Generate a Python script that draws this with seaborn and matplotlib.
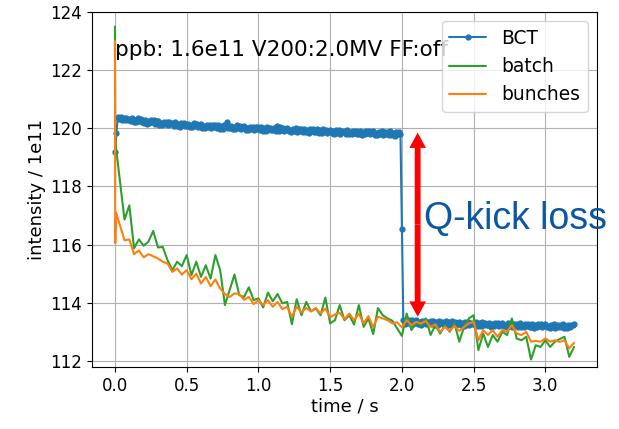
import numpy as np
import pandas as pd
import matplotlib
matplotlib.use("Agg")
import matplotlib.pyplot as plt
import seaborn as sns

# ---------------- data ----------------
t_bct = np.round(np.arange(321) * 0.01, 2)
bct = [
    119.20, 119.85, 120.38, 120.32, 120.40, 120.29, 120.37, 120.27, 120.36, 120.30,
    120.33, 120.24, 120.35, 120.22, 120.30, 120.21, 120.34, 120.26, 120.32, 120.23,
    120.19, 120.28, 120.15, 120.25, 120.17, 120.29, 120.21, 120.27, 120.16, 120.24,
    120.24, 120.12, 120.18, 120.10, 120.22, 120.14, 120.23, 120.11, 120.20, 120.15,
    120.18, 120.09, 120.20, 120.07, 120.15, 120.06, 120.19, 120.11, 120.17, 120.08,
    120.07, 120.16, 120.03, 120.13, 120.05, 120.17, 120.09, 120.15, 120.04, 120.12,
    120.14, 120.02, 120.08, 120.00, 120.12, 120.04, 120.13, 120.01, 120.10, 120.05,
    120.10, 120.01, 120.12, 119.99, 120.07, 119.98, 120.11, 120.03, 120.20, 120.00,
    120.00, 120.09, 119.96, 120.06, 119.98, 120.10, 120.02, 120.08, 119.97, 120.05,
    120.07, 119.95, 120.01, 119.93, 120.05, 119.97, 120.06, 119.94, 120.03, 119.98,
    120.03, 119.94, 120.05, 119.92, 120.00, 119.91, 120.04, 119.96, 120.02, 119.93,
    119.93, 120.02, 119.89, 120.08, 119.91, 120.03, 119.95, 120.01, 119.90, 119.98,
    120.01, 119.89, 119.95, 119.87, 119.99, 119.91, 120.00, 119.88, 119.97, 119.92,
    119.97, 119.88, 119.99, 119.86, 119.94, 119.85, 119.98, 119.90, 119.96, 119.87,
    119.87, 119.96, 119.83, 119.93, 119.85, 119.97, 119.89, 119.95, 119.84, 119.92,
    119.95, 119.83, 119.89, 119.81, 119.93, 119.85, 119.94, 119.82, 119.91, 119.86,
    119.91, 119.82, 119.93, 119.80, 119.88, 119.79, 119.92, 119.84, 119.90, 119.81,
    119.82, 119.91, 119.78, 119.88, 119.80, 119.92, 119.84, 119.90, 119.79, 119.87,
    119.90, 119.78, 119.84, 119.76, 119.88, 119.80, 119.89, 119.77, 119.86, 119.81,
    119.87, 119.78, 119.89, 119.76, 119.84, 119.75, 119.88, 119.80, 119.86, 119.82,
    116.55, 113.40, 113.27, 113.37, 113.29, 113.41, 113.33, 113.39, 113.28, 113.36,
    113.39, 113.27, 113.33, 113.25, 113.37, 113.29, 113.38, 113.26, 113.35, 113.30,
    113.36, 113.27, 113.38, 113.25, 113.33, 113.24, 113.37, 113.29, 113.35, 113.26,
    113.27, 113.36, 113.23, 113.33, 113.25, 113.37, 113.29, 113.35, 113.24, 113.32,
    113.35, 113.23, 113.29, 113.21, 113.33, 113.25, 113.34, 113.22, 113.31, 113.26,
    113.32, 113.23, 113.34, 113.21, 113.29, 113.20, 113.33, 113.25, 113.31, 113.22,
    113.22, 113.31, 113.18, 113.28, 113.20, 113.32, 113.24, 113.30, 113.19, 113.27,
    113.31, 113.19, 113.25, 113.17, 113.29, 113.21, 113.30, 113.18, 113.27, 113.22,
    113.27, 113.18, 113.29, 113.16, 113.24, 113.15, 113.28, 113.20, 113.26, 113.17,
    113.18, 113.27, 113.14, 113.24, 113.16, 113.28, 113.20, 113.26, 113.15, 113.23,
    113.27, 113.15, 113.21, 113.13, 113.25, 113.17, 113.26, 113.14, 113.23, 113.18,
    113.24, 113.15, 113.26, 113.13, 113.21, 113.12, 113.23, 113.17, 113.24, 113.22,
    113.27,
]

t_bunch = np.concatenate([[0.0, 0.002, 0.008], np.arange(2, 97) / 30.0])
batch = [
    123.50, 119.90, 119.30,
    116.86, 117.35, 115.87, 116.18, 115.96, 116.10, 116.47, 115.90, 115.92, 115.46,
    115.12, 115.41, 115.26, 115.64, 114.95, 115.41, 114.89, 115.29, 114.83, 115.64,
    115.12, 113.92, 114.45, 114.97, 114.26, 114.20, 114.53, 114.09, 114.15, 113.84,
    114.35, 114.05, 114.30, 113.98, 114.03, 113.26, 114.12, 113.57, 114.03, 113.71,
    113.80, 113.57, 114.18, 113.29, 113.40, 113.92, 113.40, 113.57, 113.25, 113.92,
    113.17, 113.46, 112.92, 113.82, 113.57, 113.46, 113.38, 113.12, 112.86,
    113.63, 113.06, 113.34, 113.23, 113.46, 112.89, 113.23, 112.94, 113.23, 113.00,
    113.29, 112.66, 113.17, 113.46, 113.57, 112.37, 112.94, 112.48, 112.89, 112.66,
    113.00, 112.89, 113.46, 112.77, 112.71, 112.83, 112.05, 112.54, 112.48, 112.71,
    112.48, 112.66, 112.75, 112.83, 112.14, 112.48,
]
bunches = [
    123.00, 116.05, 117.10,
    116.15, 116.18, 115.67, 115.80, 115.56, 115.67, 115.60, 115.52, 115.41, 115.35,
    115.06, 115.18, 114.97, 115.12, 114.81, 115.00, 114.66, 114.89, 114.57, 114.80,
    114.49, 114.30, 114.20, 114.32, 114.30, 114.10, 114.20, 113.95, 114.09, 113.92,
    114.09, 113.86, 114.03, 113.78, 113.86, 113.52, 113.86, 113.67, 113.82, 113.70,
    113.82, 113.63, 113.80, 113.50, 113.60, 113.65, 113.43, 113.63, 113.40, 113.63,
    113.29, 113.54, 113.17, 113.52, 113.46, 113.40, 113.29, 113.33, 113.15,
    113.40, 113.23, 113.34, 113.29, 113.37, 113.17, 113.26, 113.00, 113.17, 113.03,
    113.20, 113.03, 113.17, 113.29, 113.34, 112.71, 113.06, 112.89, 113.06, 112.83,
    113.06, 113.00, 113.23, 112.94, 112.89, 113.00, 112.66, 112.69, 112.66, 112.77,
    112.66, 112.71, 112.65, 112.71, 112.43, 112.62,
]

info_text = "ppb: 1.6e11 V200:2.0MV FF:off"
loss_text = "Q-kick loss"
loss_top, loss_bottom, loss_t = 119.85, 113.52, 2.11

# ---------------- style ----------------
sns.set_theme(style="ticks")
plt.rcParams["font.family"] = ["DejaVu Sans"]

fig = plt.figure(figsize=(6.19, 4.29), dpi=100)
ax = fig.add_axes([92 / 619, 1 - 367 / 429, 505 / 619, 355 / 429])

blue, orange, green = "#1f77b4", "#ff7f0e", "#2ca02c"

df_bct = pd.DataFrame({"t": t_bct, "v": bct})
df_b = pd.DataFrame({"t": t_bunch, "batch": batch, "bunches": bunches})

sns.lineplot(data=df_bct, x="t", y="v", ax=ax, color=blue, lw=1.5,
             marker=".", markersize=7, markeredgecolor=blue, markeredgewidth=1,
             sort=False, estimator=None, label="BCT")
sns.lineplot(data=df_b, x="t", y="batch", ax=ax, color=green, lw=1.5,
             sort=False, estimator=None, label="batch")
sns.lineplot(data=df_b, x="t", y="bunches", ax=ax, color=orange, lw=1.5,
             sort=False, estimator=None, label="bunches")

ax.set_xlim(-0.16, 3.36)
ax.set_ylim(111.79, 124.0)
ax.set_yticks([112, 114, 116, 118, 120, 122, 124])
ax.set_xticks([0.0, 0.5, 1.0, 1.5, 2.0, 2.5, 3.0])
ax.set_xticklabels([f"{v:.1f}" for v in [0.0, 0.5, 1.0, 1.5, 2.0, 2.5, 3.0]])
ax.grid(True, color="#b0b0b0", lw=0.8)
ax.tick_params(labelsize=12, length=3.5, width=0.8, colors="black")
for s in ax.spines.values():
    s.set_color("black")
    s.set_linewidth(0.8)
ax.set_xlabel("time / s", fontsize=13, color="black", labelpad=2)
ax.set_ylabel("intensity / 1e11", fontsize=13, color="black", labelpad=3)

ax.text(0.0, 122.5, info_text, fontsize=15.5, color="black")

mid = (loss_top + loss_bottom) / 2
for end in (loss_top, loss_bottom):
    ax.annotate("", xy=(loss_t, end), xytext=(loss_t, mid),
                arrowprops=dict(arrowstyle="simple,head_length=0.55,head_width=0.6,tail_width=0.21",
                                mutation_scale=20, fc="red", ec="none", lw=0,
                                shrinkA=0, shrinkB=0))

fig.text(424 / 619, 1 - 228.5 / 429, loss_text, fontsize=27, color="#0a57a4",
         family=["Liberation Sans", "DejaVu Sans"], ha="left", va="baseline")

leg = ax.legend(loc="upper right", fontsize=13.4, frameon=True, framealpha=0.8,
                edgecolor="#cccccc", fancybox=True)
for txt in leg.get_texts():
    txt.set_color("black")

fig.savefig("out.png", dpi=100)
